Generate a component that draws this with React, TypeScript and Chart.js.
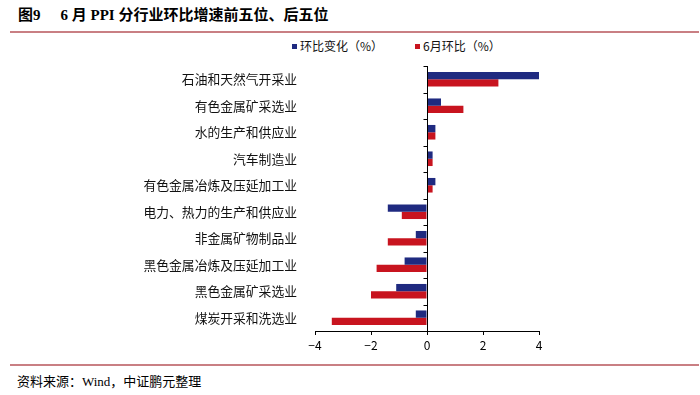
import React, { useEffect, useRef } from "react";
import { Chart, registerables } from "chart.js";

Chart.register(...registerables);

const categories = [
  "石油和天然气开采业",
  "有色金属矿采选业",
  "水的生产和供应业",
  "汽车制造业",
  "有色金属冶炼及压延加工业",
  "电力、热力的生产和供应业",
  "非金属矿物制品业",
  "黑色金属冶炼及压延加工业",
  "黑色金属矿采选业",
  "煤炭开采和洗选业",
];
const momChange = [4.0, 0.5, 0.3, 0.2, 0.3, -1.4, -0.4, -0.8, -1.1, -0.4];
const juneMom = [2.55, 1.3, 0.3, 0.2, 0.2, -0.9, -1.4, -1.8, -2.0, -3.4];
const seriesNames = ["环比变化（%）", "6月环比（%）"];
const xTickValues = [-4, -2, 0, 2, 4];
const xTickLabels = ["−4", "−2", "0", "2", "4"];

const BLUE = "#1f2a80";
const RED = "#c8141f";
const CJK = '"Noto Sans CJK SC", "Noto Sans", sans-serif';
const SERIF = '"Liberation Serif", "Noto Sans CJK SC", serif';

const zeroAxisPlugin = {
  id: "zeroAxis",
  afterDatasetsDraw(chart: any) {
    const { ctx, chartArea, scales } = chart;
    const x = scales.x;
    const y = scales.y;
    const x0 = Math.round(x.getPixelForValue(0)) + 0.5;
    ctx.save();
    ctx.strokeStyle = "#000";
    ctx.lineWidth = 1;
    ctx.beginPath();
    ctx.moveTo(x0, chartArea.top);
    ctx.lineTo(x0, chartArea.bottom);
    const n = categories.length;
    for (let i = 0; i <= n; i++) {
      const yp = Math.round(y.getPixelForValue(i - 0.5)) + 0.5;
      ctx.moveTo(x0 - 4, yp);
      ctx.lineTo(x0, yp);
    }
    ctx.stroke();
    ctx.restore();
  },
};

function BarChart() {
  const ref = useRef<HTMLCanvasElement | null>(null);
  useEffect(() => {
    if (!ref.current) return;
    const chart = new Chart(ref.current, {
      type: "bar",
      data: {
        labels: categories,
        datasets: [
          {
            label: seriesNames[0],
            data: momChange,
            backgroundColor: BLUE,
            categoryPercentage: 0.55,
            barPercentage: 1,
          },
          {
            label: seriesNames[1],
            data: juneMom,
            backgroundColor: RED,
            categoryPercentage: 0.55,
            barPercentage: 1,
          },
        ],
      },
      options: {
        indexAxis: "y",
        animation: false,
        responsive: false,
        maintainAspectRatio: false,
        layout: { padding: { top: 30, right: 161, left: 0, bottom: 0 } },
        plugins: {
          legend: { display: false },
          tooltip: { enabled: false },
        },
        scales: {
          x: {
            type: "linear",
            min: -4,
            max: 4,
            afterBuildTicks: (scale: any) => {
              scale.ticks = xTickValues.map((v) => ({ value: v }));
            },
            afterFit: (scale: any) => {
              scale.height = 27;
            },
            ticks: {
              autoSkip: false,
              maxRotation: 0,
              padding: 3,
              color: "#000",
              font: { family: CJK, size: 12 },
              callback: (v: any) => {
                const i = xTickValues.indexOf(Number(v));
                return i >= 0 ? xTickLabels[i] : "";
              },
            },
            grid: {
              drawOnChartArea: false,
              drawTicks: true,
              tickLength: 4,
              color: "#000",
            },
            border: { display: true, color: "#000", width: 1 },
          },
          y: {
            type: "category",
            afterFit: (scale: any) => {
              scale.width = 315;
            },
            ticks: {
              padding: 18,
              color: "#111",
              font: { family: CJK, size: 12.8 },
              autoSkip: false,
            },
            grid: { display: false, drawTicks: false },
            border: { display: false },
          },
        },
      },
      plugins: [zeroAxisPlugin],
    } as any);
    return () => chart.destroy();
  }, []);
  return (
    <canvas
      ref={ref}
      width={700}
      height={322}
      style={{ position: "absolute", left: 0, top: 36, width: 700, height: 322 }}
    />
  );
}

export default function App() {
  const lineStyle: React.CSSProperties = {
    position: "absolute",
    left: 10,
    width: 689,
    height: 2,
    background: "#c97f83",
  };
  return (
    <div
      style={{
        position: "fixed",
        left: 0,
        top: 0,
        width: 700,
        height: 395,
        background: "#fff",
        overflow: "hidden",
      }}
    >
      <div
        style={{
          position: "absolute",
          left: 18,
          top: 5,
          fontFamily: SERIF,
          fontWeight: "bold",
          fontSize: 15,
          lineHeight: "20px",
          whiteSpace: "nowrap",
          color: "#000",
        }}
      >
        图9<span style={{ display: "inline-block", width: 20 }} />6 月 PPI 分行业环比增速前五位、后五位
      </div>
      <div style={{ ...lineStyle, top: 31 }} />
      <div
        style={{
          position: "absolute",
          left: 292,
          top: 38,
          fontFamily: CJK,
          fontSize: 12,
          lineHeight: "16px",
          whiteSpace: "nowrap",
          color: "#111",
          display: "flex",
          alignItems: "center",
        }}
      >
        <span style={{ display: "inline-block", width: 5, height: 5, background: BLUE, marginRight: 3 }} />
        <span>{seriesNames[0]}</span>
        <span style={{ display: "inline-block", width: 5, height: 5, background: RED, marginLeft: 32, marginRight: 3 }} />
        <span>{seriesNames[1]}</span>
      </div>
      <BarChart />
      <div style={{ ...lineStyle, top: 364 }} />
      <div
        style={{
          position: "absolute",
          left: 17,
          top: 373,
          fontFamily: SERIF,
          fontSize: 13,
          lineHeight: "18px",
          whiteSpace: "nowrap",
          color: "#000",
        }}
      >
        资料来源：Wind，中证鹏元整理
      </div>
    </div>
  );
}
